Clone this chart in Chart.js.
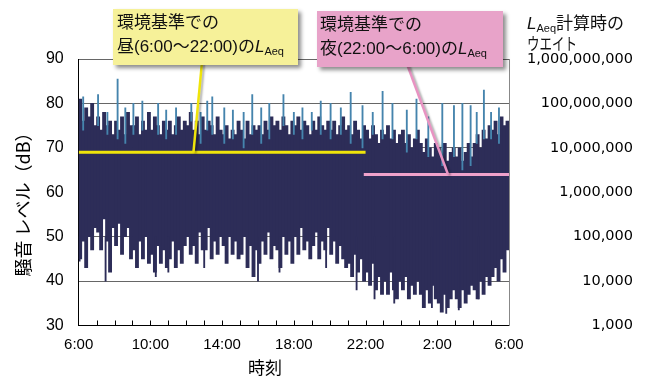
<!DOCTYPE html>
<html><head><meta charset="utf-8">
<script src="https://cdn.jsdelivr.net/npm/chart.js@4.4.1/dist/chart.umd.min.js"></script>
<style>html,body{margin:0;padding:0;background:#fff}</style>
</head><body>
<canvas id="c" width="648" height="378"></canvas>
<script>
// x-axis tick labels, every 4 hours starting 6:00
const hourLabels = ['6:00','10:00','14:00','18:00','22:00','2:00','6:00'];
// 10-minute bins from 6:00 to 6:00 next day: upper and lower noise level (dB)
const highLevels = [
 81,76,79,77,80,75, 77,74,78,75,76,73, 76,74,77,73,78,75, 75,77,73,76,74,78,
 74,77,75,73,76,74, 76,73,75,77,74,76, 75,78,74,76,73,77, 74,76,75,73,77,74,
 73,75,72,74,73,76, 74,72,76,73,75,74, 75,73,76,74,77,75, 76,74,77,75,73,76,
 75,77,74,76,75,73, 76,74,77,75,74,76, 74,76,73,75,77,74, 75,73,76,74,72,75,
 74,72,75,73,71,74, 73,75,72,74,71,73, 74,71,73,70,72,74, 71,69,72,70,68,71,
 70,68,71,67,69,70, 68,70,67,69,71,68, 71,73,70,74,72,75, 74,76,73,77,75,76
];
const lowLevels = [
 45,49,43,50,47,52, 51,47,54,49,42,52, 48,53,46,50,52,45, 47,43,49,45,50,44,
 46,42,48,44,47,43, 45,49,43,47,44,48, 50,46,48,44,51,47, 47,52,45,49,46,50,
 48,44,50,46,49,45, 46,50,43,48,41,47, 44,49,46,51,45,48, 47,43,50,46,49,44,
 50,46,52,47,49,45, 48,51,45,49,47,52, 46,49,44,48,45,43, 44,41,46,42,45,40,
 42,39,44,38,41,37, 40,37,42,38,36,40, 38,41,36,39,37,40, 37,34,38,35,39,36,
 35,33,37,34,36,38, 36,34,38,35,37,39, 38,36,40,37,41,39, 41,43,40,45,42,47
];
// short peaks (hours after 6:00, peak dB)
const peakHours  = [0.25,1.08,1.6,2.17,2.6,3.05,3.55,4.43,4.88,5.43,6.28,6.8,7.17,7.45,8.12,8.6,9.2,9.68,10.18,10.63,11.42,12.0,12.48,13.0,13.5,14.05,14.62,15.17,15.83,16.4,16.95,17.5,18.3,18.84,19.5,20.28,20.93,21.4,21.86,22.2,22.6,23.0,23.44];
const peakLevels = [81.5,82,78,85.5,79,80,80.5,80,78.5,79,80,78,80.5,81.5,79,78.5,78,82,79,80,82,78,79,78,80.5,80,79,82.5,79.5,78,82.7,80,78.5,81,77,80,79.5,80,79.5,78,83,78,79];
// short dips (hours after 6:00, minimum dB)
const dipHours  = [0.05,1.5,4.3,5.0,7.0,10.0,11.2,13.8,15.5,16.5,17.6,19.7,20.5,21.2,22.3];
const dipLevels = [44.5,40,41,42,43,40,42,43,38,36,35,34,32.7,33.5,36];
const dayLAeq = 69, nightLAeq = 64;
const dayHours = [0,16], nightHours = [15.9,24];
const weightTicks = [1e3,1e4,1e5,1e6,1e7,1e8,1e9];

const NAVY = '#2d2d58', TEAL = '#4584ad', YEL = '#efe40a', PINK = '#f0a2cb';
const LAT = '"Liberation Sans","Noto Sans CJK JP",sans-serif';
const CJK = '"Noto Sans CJK JP",sans-serif';

function rich(ctx, x, y, segs, size){
  let cx = x;
  for (const s of segs){
    const sz = s.sub ? Math.round(size*0.65) : size;
    ctx.font = (s.it ? 'italic ' : '') + sz + 'px ' + LAT;
    ctx.fillText(s.t, cx, y + (s.sub ? size*0.28 : 0));
    cx += ctx.measureText(s.t).width;
  }
}
function box(ctx, x, y, w, h, fill){
  ctx.save();
  ctx.shadowColor = 'rgba(0,0,0,0.45)';
  ctx.shadowBlur = 4; ctx.shadowOffsetX = 3; ctx.shadowOffsetY = 3;
  ctx.fillStyle = fill; ctx.fillRect(x, y, w, h);
  ctx.restore();
}
function pointer(ctx, x1, y1, x2, y2, col){
  ctx.save();
  ctx.shadowColor = 'rgba(0,0,0,0.3)'; ctx.shadowBlur = 2; ctx.shadowOffsetX = 2; ctx.shadowOffsetY = 1;
  ctx.strokeStyle = col; ctx.lineWidth = 2.5;
  ctx.beginPath(); ctx.moveTo(x1, y1); ctx.lineTo(x2, y2); ctx.stroke();
  ctx.restore();
}

const deco = {
  id: 'deco',
  afterDraw(chart){
    const {ctx, scales:{x, y}} = chart;
    ctx.save();
    ctx.strokeStyle = '#000'; ctx.lineWidth = 1;
    ctx.beginPath();
    for (let h = 1; h < 24; h++){
      const px = Math.round(x.getPixelForValue(h)) + 0.5;
      ctx.moveTo(px, y.bottom); ctx.lineTo(px, y.bottom - 5);
    }
    ctx.stroke();
    ctx.restore();
    pointer(ctx, 202, 62, x.getPixelForValue(6.4), y.getPixelForValue(dayLAeq), YEL);
    pointer(ctx, 407, 64, x.getPixelForValue(20.6), y.getPixelForValue(nightLAeq), '#e893c2');
    box(ctx, 113, 9, 185, 56, '#f6f199');
    box(ctx, 317, 11, 186, 56, '#e8a3c9');
    ctx.fillStyle = '#111'; ctx.textBaseline = 'middle'; ctx.textAlign = 'left';
    rich(ctx, 117, 23, [{t:'環境基準での'}], 17);
    rich(ctx, 117, 47, [{t:'昼(6:00～22:00)の'},{t:'L',it:true},{t:'Aeq',sub:true}], 17);
    rich(ctx, 320, 25, [{t:'環境基準での'}], 17);
    rich(ctx, 320, 49, [{t:'夜(22:00～6:00)の'},{t:'L',it:true},{t:'Aeq',sub:true}], 17);
    rich(ctx, 527, 24, [{t:'L',it:true},{t:'Aeq',sub:true},{t:'計算時の'}], 17);
    ctx.save();
    ctx.font = '17px ' + CJK;
    const w = ctx.measureText('ウエイト').width;
    ctx.translate(527, 44); ctx.scale(50 / w, 1);
    ctx.fillText('ウエイト', 0, 0);
    ctx.restore();
    // axis titles
    ctx.save();
    ctx.fillStyle = '#000'; ctx.textAlign = 'center'; ctx.textBaseline = 'middle';
    ctx.font = '17px ' + CJK;
    ctx.fillText('時刻', 265, 368);
    ctx.translate(23, 200); ctx.rotate(-Math.PI/2);
    ctx.font = '18px ' + CJK;
    ctx.fillText('騒音 レベル（dB）', 0, 0);
    ctx.restore();
  }
};

const spikeBase = h => highLevels[Math.min(143, Math.floor(h*6))] - 2;

new Chart(document.getElementById('c'), {
  type: 'bar',
  data: {
    datasets: [
      { type:'line', data: dayHours.map(h => ({x:h, y:dayLAeq})), borderColor: YEL, borderWidth: 3, pointRadius: 0, order: 0 },
      { type:'line', data: nightHours.map(h => ({x:h, y:nightLAeq})), borderColor: PINK, borderWidth: 3, pointRadius: 0, order: 0 },
      { data: peakHours.map((h,k) => ({x:h, y:[spikeBase(h), peakLevels[k]]})), backgroundColor: TEAL, barThickness: 1.2, grouped: false, order: 1 },
      { data: dipHours.map((h,k) => ({x:h, y:[dipLevels[k], 50]})), backgroundColor: NAVY, barThickness: 1.2, grouped: false, order: 2 },
      { data: highLevels.map((v,i) => ({x:(i+0.5)/6, y:[lowLevels[i], v]})), backgroundColor: NAVY, barThickness: 3.2, grouped: false, order: 3 }
    ]
  },
  options: {
    responsive: false, animation: false, devicePixelRatio: 1,
    layout: { padding: { left: 0, right: 15, top: 59, bottom: 0 } },
    plugins: { legend: { display: false }, tooltip: { enabled: false } },
    scales: {
      x: {
        type: 'linear', min: 0, max: 24, offset: false,
        afterFit: s => { s.height = 52.5; },
        grid: { display: false, drawTicks: false, offset: false },
        border: { color: '#000', width: 1 },
        ticks: { stepSize: 4, autoSkip: false, maxRotation: 0, padding: 10, color: '#000',
                 font: { family: LAT, size: 15 }, callback: v => hourLabels[v/4] }
      },
      y: {
        type: 'linear', position: 'left', min: 30, max: 90,
        afterFit: s => { s.width = 78.7; },
        grid: { color: '#666', lineWidth: 1, drawTicks: false },
        border: { color: '#000', width: 1 },
        ticks: { stepSize: 10, padding: 15, color: '#000', font: { family: LAT, size: 16 } }
      },
      y2: {
        type: 'logarithmic', position: 'right', min: 1e3, max: 1e9,
        afterFit: s => { s.width = 124; },
        grid: { display: false, drawTicks: false },
        border: { color: '#888', width: 1 },
        afterBuildTicks: ax => { ax.ticks = weightTicks.map(v => ({ value: v })); },
        ticks: { padding: 16, crossAlign: 'far', color: '#000', font: { family: '"DejaVu Sans",sans-serif', size: 14.5 },
                 callback: v => Number(v).toLocaleString('en-US') }
      }
    }
  },
  plugins: [deco]
});
</script>
</body></html>
